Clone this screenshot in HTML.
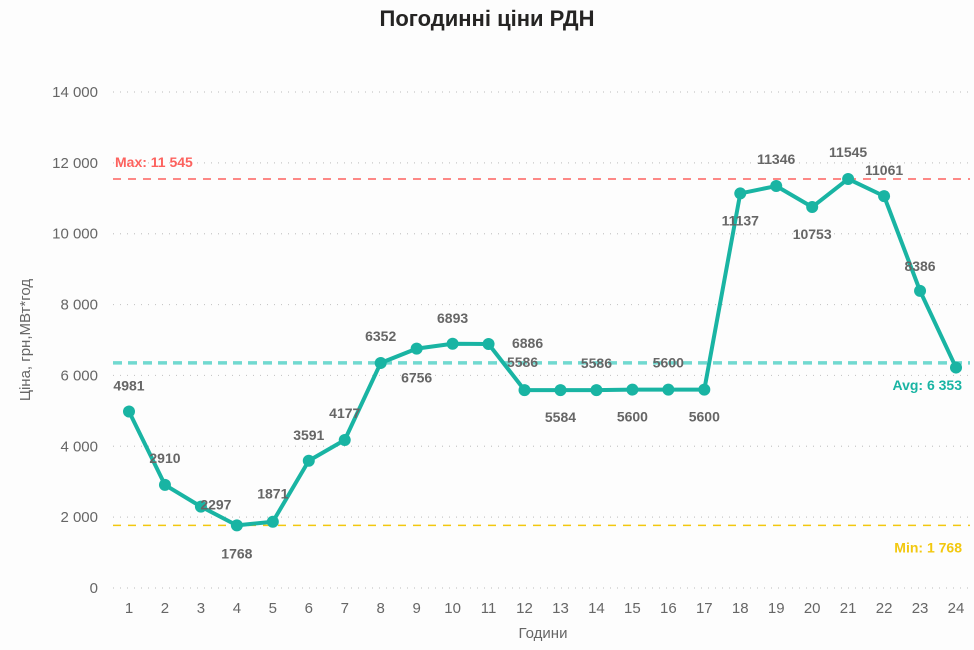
<!DOCTYPE html>
<html><head><meta charset="utf-8"><style>
html,body{margin:0;padding:0;background:#fff;}
svg{display:block;font-family:"Liberation Sans","DejaVu Sans",sans-serif;}
</style></head><body>
<svg id="chart" width="974" height="650" viewBox="0 0 974 650">
<rect width="974" height="650" fill="#fdfdfd"/>
<text x="487" y="26" text-anchor="middle" font-size="22" font-weight="bold" fill="#252423">Погодинні ціни РДН</text>
<text transform="translate(30,340) rotate(-90)" text-anchor="middle" font-size="15" fill="#666">Ціна, грн,МВт*год</text>
<text x="543" y="638" text-anchor="middle" font-size="15" fill="#666">Години</text>
<g id="grid"></g><g id="refs"></g><g id="series"></g><g id="labels"></g>
</svg>
<script>
const hours = [1,2,3,4,5,6,7,8,9,10,11,12,13,14,15,16,17,18,19,20,21,22,23,24];
const prices = [4981,2910,2297,1768,1871,3591,4177,6352,6756,6893,6886,5586,5584,5586,5600,5600,5600,11137,11346,10753,11545,11061,8386,6222];
const shownLabels = ["4981","2910","2297","1768","1871","3591","4177","6352","6756","6893","6886","5586","5584","5586","5600","5600","5600","11137","11346","10753","11545","11061","8386",""];
const yTicks = [0,2000,4000,6000,8000,10000,12000,14000];
const yTickLabels = ["0","2 000","4 000","6 000","8 000","10 000","12 000","14 000"];
const maxVal = 11545, minVal = 1768, avgVal = 6353;
const refLabels = ["Max: 11 545","Min: 1 768","Avg: 6 353"];
// label placement offsets (styling)
const lblDx = [0,0,15,0,0,0,0,0,0,0,39,-2,0,0,0,0,0,0,0,0,0,0,0,0];
const lblDy = [-26,-27,-2,28,-28,-26,-27,-27,29,-26,-1,-28,27,-27,27,-27,27,27,-27,27,-27,-26,-25,0];

const NS="http://www.w3.org/2000/svg";
const x0=129,x1=956,y0=588,yTop=92;
const xS=h=>x0+(h-1)*(x1-x0)/23;
const yS=v=>y0-v*(y0-yTop)/14000;
function mk(tag,attrs,parent,text){const e=document.createElementNS(NS,tag);for(const k in attrs)e.setAttribute(k,attrs[k]);if(text!==undefined)e.textContent=text;document.getElementById(parent).appendChild(e);return e;}
yTicks.forEach((t,i)=>{
  const g=mk('line',{x1:113,x2:970,y1:yS(t),y2:yS(t),stroke:'#c8c8c8','stroke-dasharray':'1 6','stroke-width':1.2},'grid');
  
  
  const l=mk('text',{x:98,y:yS(t)+5,'text-anchor':'end','font-size':15,fill:'#666'},'grid',yTickLabels[i]);
  
  
});
hours.forEach(h=>{
  const l=mk('text',{x:xS(h),y:613,'text-anchor':'middle','font-size':15,fill:'#666'},'grid',String(h));
  
  
});
const refs=[[maxVal,'#fd625e',1.5,'8 7'],[minVal,'#f2c80f',1.5,'8 7'],[avgVal,'#4fd1c5',3.5,'9 6']];
refs.forEach((r,i)=>{
  const l=mk('line',{x1:113,x2:970,y1:yS(r[0]),y2:yS(r[0]),stroke:r[1],'stroke-width':r[2],'stroke-dasharray':r[3],opacity:i==2?0.8:1},'refs');
  
  
});
let t=mk('text',{x:115,y:yS(maxVal)-12,'font-size':14,'font-weight':'bold',fill:'#fd625e'},'refs',refLabels[0]);


t=mk('text',{x:962,y:yS(minVal)+27,'text-anchor':'end','font-size':14,'font-weight':'bold',fill:'#f2c80f'},'refs',refLabels[1]);


t=mk('text',{x:962,y:yS(avgVal)+27,'text-anchor':'end','font-size':14,'font-weight':'bold',fill:'#19b4a3'},'refs',refLabels[2]);


const pts=hours.map((h,i)=>xS(h)+','+yS(prices[i])).join(' ');
const pl=mk('polyline',{points:pts,fill:'none',stroke:'#19b4a3','stroke-width':4,'stroke-linejoin':'round'},'series');


hours.forEach((h,i)=>{
  const c=mk('circle',{cx:xS(h),cy:yS(prices[i]),r:6,fill:'#19b4a3'},'series');
  
  
  if(shownLabels[i]){
    const l=mk('text',{x:xS(h)+lblDx[i],y:yS(prices[i])+lblDy[i]+5,'text-anchor':'middle','font-size':14,'font-weight':'bold',fill:'#666'},'labels',shownLabels[i]);
    
    
  }
});
</script>
</body></html>
